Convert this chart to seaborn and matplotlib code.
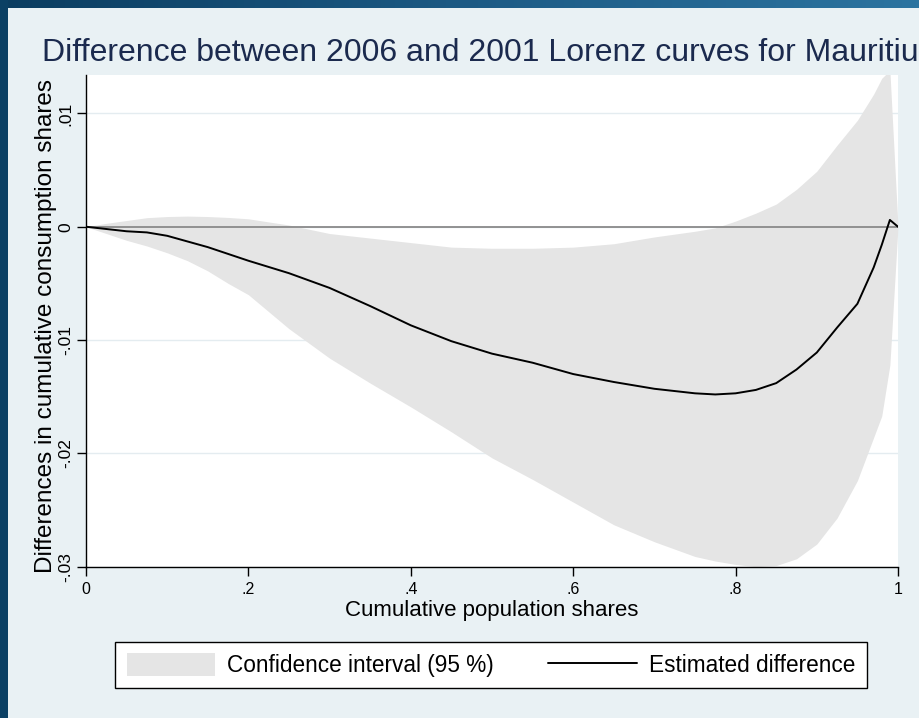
import numpy as np
import pandas as pd
import matplotlib
matplotlib.use("Agg")
import matplotlib.pyplot as plt
import seaborn as sns
from matplotlib.patches import Patch, Rectangle
from matplotlib.lines import Line2D
from matplotlib.colors import LinearSegmentedColormap

# ---------------- data ----------------
pop_share = [0, 0.025, 0.05, 0.075, 0.1, 0.125, 0.15, 0.175, 0.2, 0.25, 0.3,
             0.35, 0.4, 0.45, 0.5, 0.55, 0.6, 0.65, 0.7, 0.75, 0.775, 0.8,
             0.825, 0.85, 0.875, 0.9, 0.925, 0.95, 0.97, 0.98, 0.99, 1.0]
estimate = [0, -0.0002, -0.0004, -0.0005, -0.0008, -0.0013, -0.0018, -0.0024,
            -0.0030, -0.0041, -0.0054, -0.0070, -0.0087, -0.0101, -0.0112,
            -0.0120, -0.0130, -0.0137, -0.0143, -0.0147, -0.0148, -0.0147,
            -0.0144, -0.0138, -0.0126, -0.0111, -0.0089, -0.0068, -0.0036,
            -0.0016, 0.0006, 0.0]
ci_upper = [0, 0.0003, 0.00055, 0.0008, 0.0009, 0.00094, 0.0009, 0.00082,
            0.0007, 0.00015, -0.0006, -0.0010, -0.0014, -0.0018, -0.0019,
            -0.0019, -0.0018, -0.0015, -0.0009, -0.0004, -0.0001, 0.0005,
            0.0012, 0.0020, 0.0033, 0.0049, 0.0072, 0.0094, 0.0117, 0.0131,
            0.0138, 0.0]
ci_lower = [0, -0.0006, -0.0012, -0.0017, -0.0023, -0.0030, -0.0039, -0.0050,
            -0.0060, -0.0090, -0.0116, -0.0138, -0.0159, -0.0181, -0.0204,
            -0.0223, -0.0243, -0.0263, -0.0278, -0.0291, -0.0295, -0.0298,
            -0.0300, -0.0299, -0.0293, -0.0280, -0.0257, -0.0224, -0.0186,
            -0.0167, -0.0122, 0.0]

x_ticks = [0, 0.2, 0.4, 0.6, 0.8, 1.0]
x_ticklabels = ["0", ".2", ".4", ".6", ".8", "1"]
y_ticks = [-0.03, -0.02, -0.01, 0, 0.01]
y_ticklabels = ["-.03", "-.02", "-.01", "0", ".01"]

title = "Difference between 2006 and 2001 Lorenz curves for Mauritius"
xlabel = "Cumulative population shares"
ylabel = "Differences in cumulative consumption shares"
legend_ci = "Confidence interval (95 %)"
legend_est = "Estimated difference"

df = pd.DataFrame({"share": pop_share, "est": estimate,
                   "lo": ci_lower, "hi": ci_upper})

# ---------------- style ----------------
BG = "#e9f1f4"
CI_COLOR = "#e5e5e5"
sns.set_theme(style="white")
plt.rcParams["font.family"] = ["Liberation Sans", "DejaVu Sans"]

W, H = 920, 718
fig = plt.figure(figsize=(W / 100, H / 100), dpi=100, facecolor=BG)

# decorative frame (dark blue strips on the top and left)
bax = fig.add_axes([0, 0, 1, 1], zorder=-10)
bax.set_xlim(0, W)
bax.set_ylim(H, 0)
bax.axis("off")
cmap = LinearSegmentedColormap.from_list("frame", ["#0b3d60", "#1c5a84", "#2c74a0"])
grad = np.linspace(0, 1, 256).reshape(1, -1)
bax.imshow(grad, extent=[0, W, 8, 0], aspect="auto", cmap=cmap)
bax.add_patch(Rectangle((0, 0), 8, H, color="#0b4064", lw=0))

# main axes
left, right, top, bottom = 86, 898, 75, 566.7
ax = fig.add_axes([left / W, 1 - bottom / H, (right - left) / W, (bottom - top) / H])
ax.set_facecolor("white")

ax.fill_between(df["share"], df["lo"], df["hi"], color=CI_COLOR, lw=0, zorder=1)
ax.axhline(0, color="#8a8a8a", lw=1.3, zorder=2)
sns.lineplot(data=df, x="share", y="est", ax=ax, color="black", lw=1.4,
             estimator=None, sort=False, zorder=3)

ax.set_xlim(0, 1)
ax.set_ylim(-0.03, 0.01339)
ax.set_xticks(x_ticks)
ax.set_xticklabels(x_ticklabels)
ax.set_yticks(y_ticks)
ax.set_yticklabels(y_ticklabels, rotation=90, va="center")
ax.grid(axis="y", color="#e4ecf0", lw=1.0)
ax.grid(axis="x", visible=False)
ax.set_axisbelow(True)

for s in ["top", "right"]:
    ax.spines[s].set_visible(False)
for s in ["left", "bottom"]:
    ax.spines[s].set_color("black")
    ax.spines[s].set_linewidth(1.0)

ax.tick_params(axis="both", direction="out", length=6.5, width=1.0,
               color="black", labelcolor="black")
ax.tick_params(axis="x", pad=4.3, bottom=True, labelsize=11.5)
ax.tick_params(axis="y", pad=2.5, left=True, labelsize=12.5)

ax.set_xlabel(xlabel, fontsize=16, color="black")
ax.xaxis.set_label_coords(0.5, (bottom - 600) / (bottom - top))
ax.set_ylabel(ylabel, fontsize=17.5, color="black", va="center")
ax.yaxis.set_label_coords((46 - left) / (right - left), (bottom - 326) / (bottom - top))

fig.text(42 / W, 1 - 61 / H, title, fontsize=23, color="#1b2a4e",
         ha="left", va="baseline")

handles = [Patch(facecolor=CI_COLOR, edgecolor="none", label=legend_ci),
           Line2D([], [], color="black", lw=1.4, label=legend_est)]
leg = fig.legend(handles=handles, loc="center",
                 bbox_to_anchor=(491 / W, 1 - 665 / H), ncol=2,
                 frameon=True, fancybox=False, edgecolor="black",
                 facecolor="white", framealpha=1, fontsize=16.3,
                 handlelength=3.9, handleheight=1.15, handletextpad=0.54,
                 columnspacing=2.4, borderpad=0.5)
leg.get_frame().set_linewidth(1.0)
for t in leg.get_texts():
    t.set_color("black")

fig.savefig("out.png", dpi=100, facecolor=BG)
